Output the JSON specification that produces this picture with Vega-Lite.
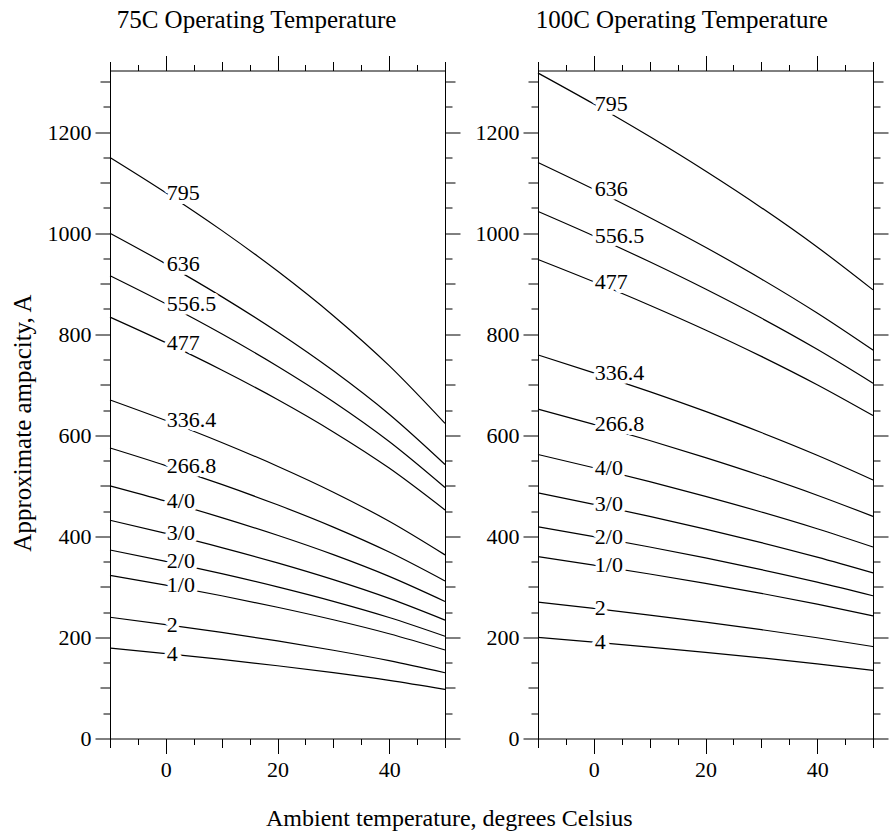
{
"$schema": "https://vega.github.io/schema/vega-lite/v6.json",
"padding": {"left": 10, "top": 7.5, "right": 5, "bottom": 5},
"bounds": "flush",
"spacing": 93,
"title": {"text": "Ambient temperature, degrees Celsius", "orient": "bottom", "anchor": "middle", "frame": "bounds", "fontSize": 24, "fontWeight": "normal", "font": "Liberation Serif", "color": "black", "offset": 26},
"datasets": {
"t75": [
{"c":"795","t":-10,"a":1150},{"c":"795","t":0,"a":1080.2},{"c":"795","t":10,"a":1005.6},{"c":"795","t":20,"a":925.1},{"c":"795","t":30,"a":836.8},{"c":"795","t":40,"a":737.9},{"c":"795","t":50,"a":623.7},
{"c":"636","t":-10,"a":1000},{"c":"636","t":0,"a":939.3},{"c":"636","t":10,"a":874.5},{"c":"636","t":20,"a":804.4},{"c":"636","t":30,"a":727.6},{"c":"636","t":40,"a":641.7},{"c":"636","t":50,"a":542.3},
{"c":"556.5","t":-10,"a":916},{"c":"556.5","t":0,"a":860.4},{"c":"556.5","t":10,"a":801.0},{"c":"556.5","t":20,"a":736.8},{"c":"556.5","t":30,"a":666.5},{"c":"556.5","t":40,"a":587.8},{"c":"556.5","t":50,"a":496.8},
{"c":"477","t":-10,"a":834},{"c":"477","t":0,"a":783.4},{"c":"477","t":10,"a":729.3},{"c":"477","t":20,"a":670.9},{"c":"477","t":30,"a":606.8},{"c":"477","t":40,"a":535.2},{"c":"477","t":50,"a":452.3},
{"c":"336.4","t":-10,"a":670},{"c":"336.4","t":0,"a":629.4},{"c":"336.4","t":10,"a":585.9},{"c":"336.4","t":20,"a":538.9},{"c":"336.4","t":30,"a":487.5},{"c":"336.4","t":40,"a":429.9},{"c":"336.4","t":50,"a":363.4},
{"c":"266.8","t":-10,"a":575},{"c":"266.8","t":0,"a":540.1},{"c":"266.8","t":10,"a":502.8},{"c":"266.8","t":20,"a":462.5},{"c":"266.8","t":30,"a":418.4},{"c":"266.8","t":40,"a":369.0},{"c":"266.8","t":50,"a":311.8},
{"c":"4/0","t":-10,"a":500},{"c":"4/0","t":0,"a":469.7},{"c":"4/0","t":10,"a":437.2},{"c":"4/0","t":20,"a":402.2},{"c":"4/0","t":30,"a":363.8},{"c":"4/0","t":40,"a":320.8},{"c":"4/0","t":50,"a":271.2},
{"c":"3/0","t":-10,"a":432},{"c":"3/0","t":0,"a":405.8},{"c":"3/0","t":10,"a":377.8},{"c":"3/0","t":20,"a":347.5},{"c":"3/0","t":30,"a":314.3},{"c":"3/0","t":40,"a":277.2},{"c":"3/0","t":50,"a":234.3},
{"c":"2/0","t":-10,"a":373},{"c":"2/0","t":0,"a":350.4},{"c":"2/0","t":10,"a":326.2},{"c":"2/0","t":20,"a":300.0},{"c":"2/0","t":30,"a":271.4},{"c":"2/0","t":40,"a":239.4},{"c":"2/0","t":50,"a":202.3},
{"c":"1/0","t":-10,"a":323},{"c":"1/0","t":0,"a":303.4},{"c":"1/0","t":10,"a":282.5},{"c":"1/0","t":20,"a":259.8},{"c":"1/0","t":30,"a":235.0},{"c":"1/0","t":40,"a":207.3},{"c":"1/0","t":50,"a":175.2},
{"c":"2","t":-10,"a":240},{"c":"2","t":0,"a":225.4},{"c":"2","t":10,"a":209.9},{"c":"2","t":20,"a":193.1},{"c":"2","t":30,"a":174.6},{"c":"2","t":40,"a":154.0},{"c":"2","t":50,"a":130.2},
{"c":"4","t":-10,"a":179},{"c":"4","t":0,"a":168.1},{"c":"4","t":10,"a":156.5},{"c":"4","t":20,"a":144.0},{"c":"4","t":30,"a":130.2},{"c":"4","t":40,"a":114.9},{"c":"4","t":50,"a":97.1}
],
"t100": [
{"c":"795","t":-10,"a":1317},{"c":"795","t":0,"a":1255.7},{"c":"795","t":10,"a":1191.3},{"c":"795","t":20,"a":1123.1},{"c":"795","t":30,"a":1050.6},{"c":"795","t":40,"a":972.7},{"c":"795","t":50,"a":887.9},
{"c":"636","t":-10,"a":1140},{"c":"636","t":0,"a":1086.9},{"c":"636","t":10,"a":1031.2},{"c":"636","t":20,"a":972.2},{"c":"636","t":30,"a":909.4},{"c":"636","t":40,"a":842.0},{"c":"636","t":50,"a":768.6},
{"c":"556.5","t":-10,"a":1043},{"c":"556.5","t":0,"a":994.5},{"c":"556.5","t":10,"a":943.4},{"c":"556.5","t":20,"a":889.5},{"c":"556.5","t":30,"a":832.0},{"c":"556.5","t":40,"a":770.3},{"c":"556.5","t":50,"a":703.2},
{"c":"477","t":-10,"a":948},{"c":"477","t":0,"a":903.9},{"c":"477","t":10,"a":857.5},{"c":"477","t":20,"a":808.5},{"c":"477","t":30,"a":756.2},{"c":"477","t":40,"a":700.1},{"c":"477","t":50,"a":639.1},
{"c":"336.4","t":-10,"a":759},{"c":"336.4","t":0,"a":723.7},{"c":"336.4","t":10,"a":686.5},{"c":"336.4","t":20,"a":647.3},{"c":"336.4","t":30,"a":605.5},{"c":"336.4","t":40,"a":560.6},{"c":"336.4","t":50,"a":511.7},
{"c":"266.8","t":-10,"a":652},{"c":"266.8","t":0,"a":621.7},{"c":"266.8","t":10,"a":589.8},{"c":"266.8","t":20,"a":556.0},{"c":"266.8","t":30,"a":520.1},{"c":"266.8","t":40,"a":481.5},{"c":"266.8","t":50,"a":439.6},
{"c":"4/0","t":-10,"a":562},{"c":"4/0","t":0,"a":535.8},{"c":"4/0","t":10,"a":508.3},{"c":"4/0","t":20,"a":479.3},{"c":"4/0","t":30,"a":448.3},{"c":"4/0","t":40,"a":415.1},{"c":"4/0","t":50,"a":378.9},
{"c":"3/0","t":-10,"a":486},{"c":"3/0","t":0,"a":463.4},{"c":"3/0","t":10,"a":439.6},{"c":"3/0","t":20,"a":414.5},{"c":"3/0","t":30,"a":387.7},{"c":"3/0","t":40,"a":358.9},{"c":"3/0","t":50,"a":327.7},
{"c":"2/0","t":-10,"a":419},{"c":"2/0","t":0,"a":399.5},{"c":"2/0","t":10,"a":379.0},{"c":"2/0","t":20,"a":357.3},{"c":"2/0","t":30,"a":334.2},{"c":"2/0","t":40,"a":309.5},{"c":"2/0","t":50,"a":282.5},
{"c":"1/0","t":-10,"a":360},{"c":"1/0","t":0,"a":343.2},{"c":"1/0","t":10,"a":325.6},{"c":"1/0","t":20,"a":307.0},{"c":"1/0","t":30,"a":287.2},{"c":"1/0","t":40,"a":265.9},{"c":"1/0","t":50,"a":242.7},
{"c":"2","t":-10,"a":270},{"c":"2","t":0,"a":257.4},{"c":"2","t":10,"a":244.2},{"c":"2","t":20,"a":230.3},{"c":"2","t":30,"a":215.4},{"c":"2","t":40,"a":199.4},{"c":"2","t":50,"a":182.0},
{"c":"4","t":-10,"a":200},{"c":"4","t":0,"a":190.7},{"c":"4","t":10,"a":180.9},{"c":"4","t":20,"a":170.6},{"c":"4","t":30,"a":159.5},{"c":"4","t":40,"a":147.7},{"c":"4","t":50,"a":134.8}
]
},
"hconcat": [
{
"width": 335, "height": 668,
"title": {"text": "75C Operating Temperature", "anchor": "middle", "frame": "group", "dx": -21, "fontSize": 25, "fontWeight": "normal", "font": "Liberation Serif", "color": "black", "offset": 22},
"data": {"name": "t75"},
"layer": [
{"mark": {"type": "line", "color": "black", "strokeWidth": 1.2, "interpolate": "monotone"},
 "encoding": {
  "x": {"field": "t", "type": "quantitative", "scale": {"domain": [-10, 50], "nice": false, "zero": false},
        "axis": {"orient": "bottom", "values": [-10,-5,0,5,10,15,20,25,30,35,40,45,50], "labelExpr": "datum.value % 20 === 0 ? '' + datum.value : ''", "labelPadding": 6, "tickSize": {"condition": [{"test": "datum.value % 20 === 0", "value": 15}, {"test": "datum.value % 10 === 0", "value": 9}], "value": 6}, "title": null}},
  "y": {"field": "a", "type": "quantitative", "scale": {"domain": [0, 1322], "nice": false},
        "axis": {"orient": "left", "values": [0,50,100,150,200,250,300,350,400,450,500,550,600,650,700,750,800,850,900,950,1000,1050,1100,1150,1200,1250,1300], "labelExpr": "datum.value % 200 === 0 ? '' + datum.value : ''", "tickSize": {"condition": [{"test": "datum.value % 200 === 0", "value": 15}, {"test": "datum.value % 100 === 0", "value": 10}], "value": 7}, "title": "Approximate ampacity, A", "titleFontSize": 25, "titleFontWeight": "normal", "titlePadding": 12, "titleY": 352}},
  "detail": {"field": "c"}
 }},
{"transform": [{"filter": "datum.t === 0"}],
 "mark": {"type": "text", "align": "left", "baseline": "middle", "dx": 1, "fontSize": 22, "font": "Liberation Serif", "fill": "white", "stroke": "white", "strokeWidth": 8, "strokeJoin": "round"},
 "encoding": {
  "x": {"field": "t", "type": "quantitative", "axis": {"orient": "top", "values": [-10,-5,0,5,10,15,20,25,30,35,40,45,50], "labels": false, "tickSize": {"condition": [{"test": "datum.value % 20 === 0", "value": 15}, {"test": "datum.value % 10 === 0", "value": 9}], "value": 6}, "title": null}},
  "y": {"field": "a", "type": "quantitative", "axis": {"orient": "right", "values": [0,50,100,150,200,250,300,350,400,450,500,550,600,650,700,750,800,850,900,950,1000,1050,1100,1150,1200,1250,1300], "labels": false, "tickSize": {"condition": [{"test": "datum.value % 200 === 0", "value": 15}, {"test": "datum.value % 100 === 0", "value": 10}], "value": 7}, "title": null}},
  "text": {"field": "c"}
 }},
{"transform": [{"filter": "datum.t === 0"}],
 "mark": {"type": "text", "align": "left", "baseline": "middle", "dx": 1, "fontSize": 22, "font": "Liberation Serif", "fill": "black"},
 "encoding": {
  "x": {"field": "t", "type": "quantitative", "axis": null},
  "y": {"field": "a", "type": "quantitative", "axis": null},
  "text": {"field": "c"}
 }}
],
"resolve": {"axis": {"x": "independent", "y": "independent"}}
},
{
"width": 335, "height": 668,
"title": {"text": "100C Operating Temperature", "anchor": "middle", "frame": "bounds", "fontSize": 25, "fontWeight": "normal", "font": "Liberation Serif", "color": "black", "offset": 22},
"data": {"name": "t100"},
"layer": [
{"mark": {"type": "line", "color": "black", "strokeWidth": 1.2, "interpolate": "monotone"},
 "encoding": {
  "x": {"field": "t", "type": "quantitative", "scale": {"domain": [-10, 50], "nice": false, "zero": false},
        "axis": {"orient": "bottom", "values": [-10,-5,0,5,10,15,20,25,30,35,40,45,50], "labelExpr": "datum.value % 20 === 0 ? '' + datum.value : ''", "labelPadding": 6, "tickSize": {"condition": [{"test": "datum.value % 20 === 0", "value": 15}, {"test": "datum.value % 10 === 0", "value": 9}], "value": 6}, "title": null}},
  "y": {"field": "a", "type": "quantitative", "scale": {"domain": [0, 1322], "nice": false},
        "axis": {"orient": "left", "values": [0,50,100,150,200,250,300,350,400,450,500,550,600,650,700,750,800,850,900,950,1000,1050,1100,1150,1200,1250,1300], "labelExpr": "datum.value % 200 === 0 ? '' + datum.value : ''", "tickSize": {"condition": [{"test": "datum.value % 200 === 0", "value": 15}, {"test": "datum.value % 100 === 0", "value": 10}], "value": 7}, "title": null}},
  "detail": {"field": "c"}
 }},
{"transform": [{"filter": "datum.t === 0"}],
 "mark": {"type": "text", "align": "left", "baseline": "middle", "dx": 1, "fontSize": 22, "font": "Liberation Serif", "fill": "white", "stroke": "white", "strokeWidth": 8, "strokeJoin": "round"},
 "encoding": {
  "x": {"field": "t", "type": "quantitative", "axis": {"orient": "top", "values": [-10,-5,0,5,10,15,20,25,30,35,40,45,50], "labels": false, "tickSize": {"condition": [{"test": "datum.value % 20 === 0", "value": 15}, {"test": "datum.value % 10 === 0", "value": 9}], "value": 6}, "title": null}},
  "y": {"field": "a", "type": "quantitative", "axis": {"orient": "right", "values": [0,50,100,150,200,250,300,350,400,450,500,550,600,650,700,750,800,850,900,950,1000,1050,1100,1150,1200,1250,1300], "labels": false, "tickSize": {"condition": [{"test": "datum.value % 200 === 0", "value": 15}, {"test": "datum.value % 100 === 0", "value": 10}], "value": 7}, "title": null}},
  "text": {"field": "c"}
 }},
{"transform": [{"filter": "datum.t === 0"}],
 "mark": {"type": "text", "align": "left", "baseline": "middle", "dx": 1, "fontSize": 22, "font": "Liberation Serif", "fill": "black"},
 "encoding": {
  "x": {"field": "t", "type": "quantitative", "axis": null},
  "y": {"field": "a", "type": "quantitative", "axis": null},
  "text": {"field": "c"}
 }}
],
"resolve": {"axis": {"x": "independent", "y": "independent"}}
}
],
"config": {
  "view": {"stroke": null},
  "font": "Liberation Serif",
  "axis": {"grid": false, "domainColor": "black", "domainWidth": 1, "tickColor": "black", "tickWidth": 1, "labelColor": "black", "titleColor": "black", "labelFont": "Liberation Serif", "titleFont": "Liberation Serif", "labelFontSize": 22, "labelPadding": 4, "labelOverlap": false, "labelFlush": false}
}
}
